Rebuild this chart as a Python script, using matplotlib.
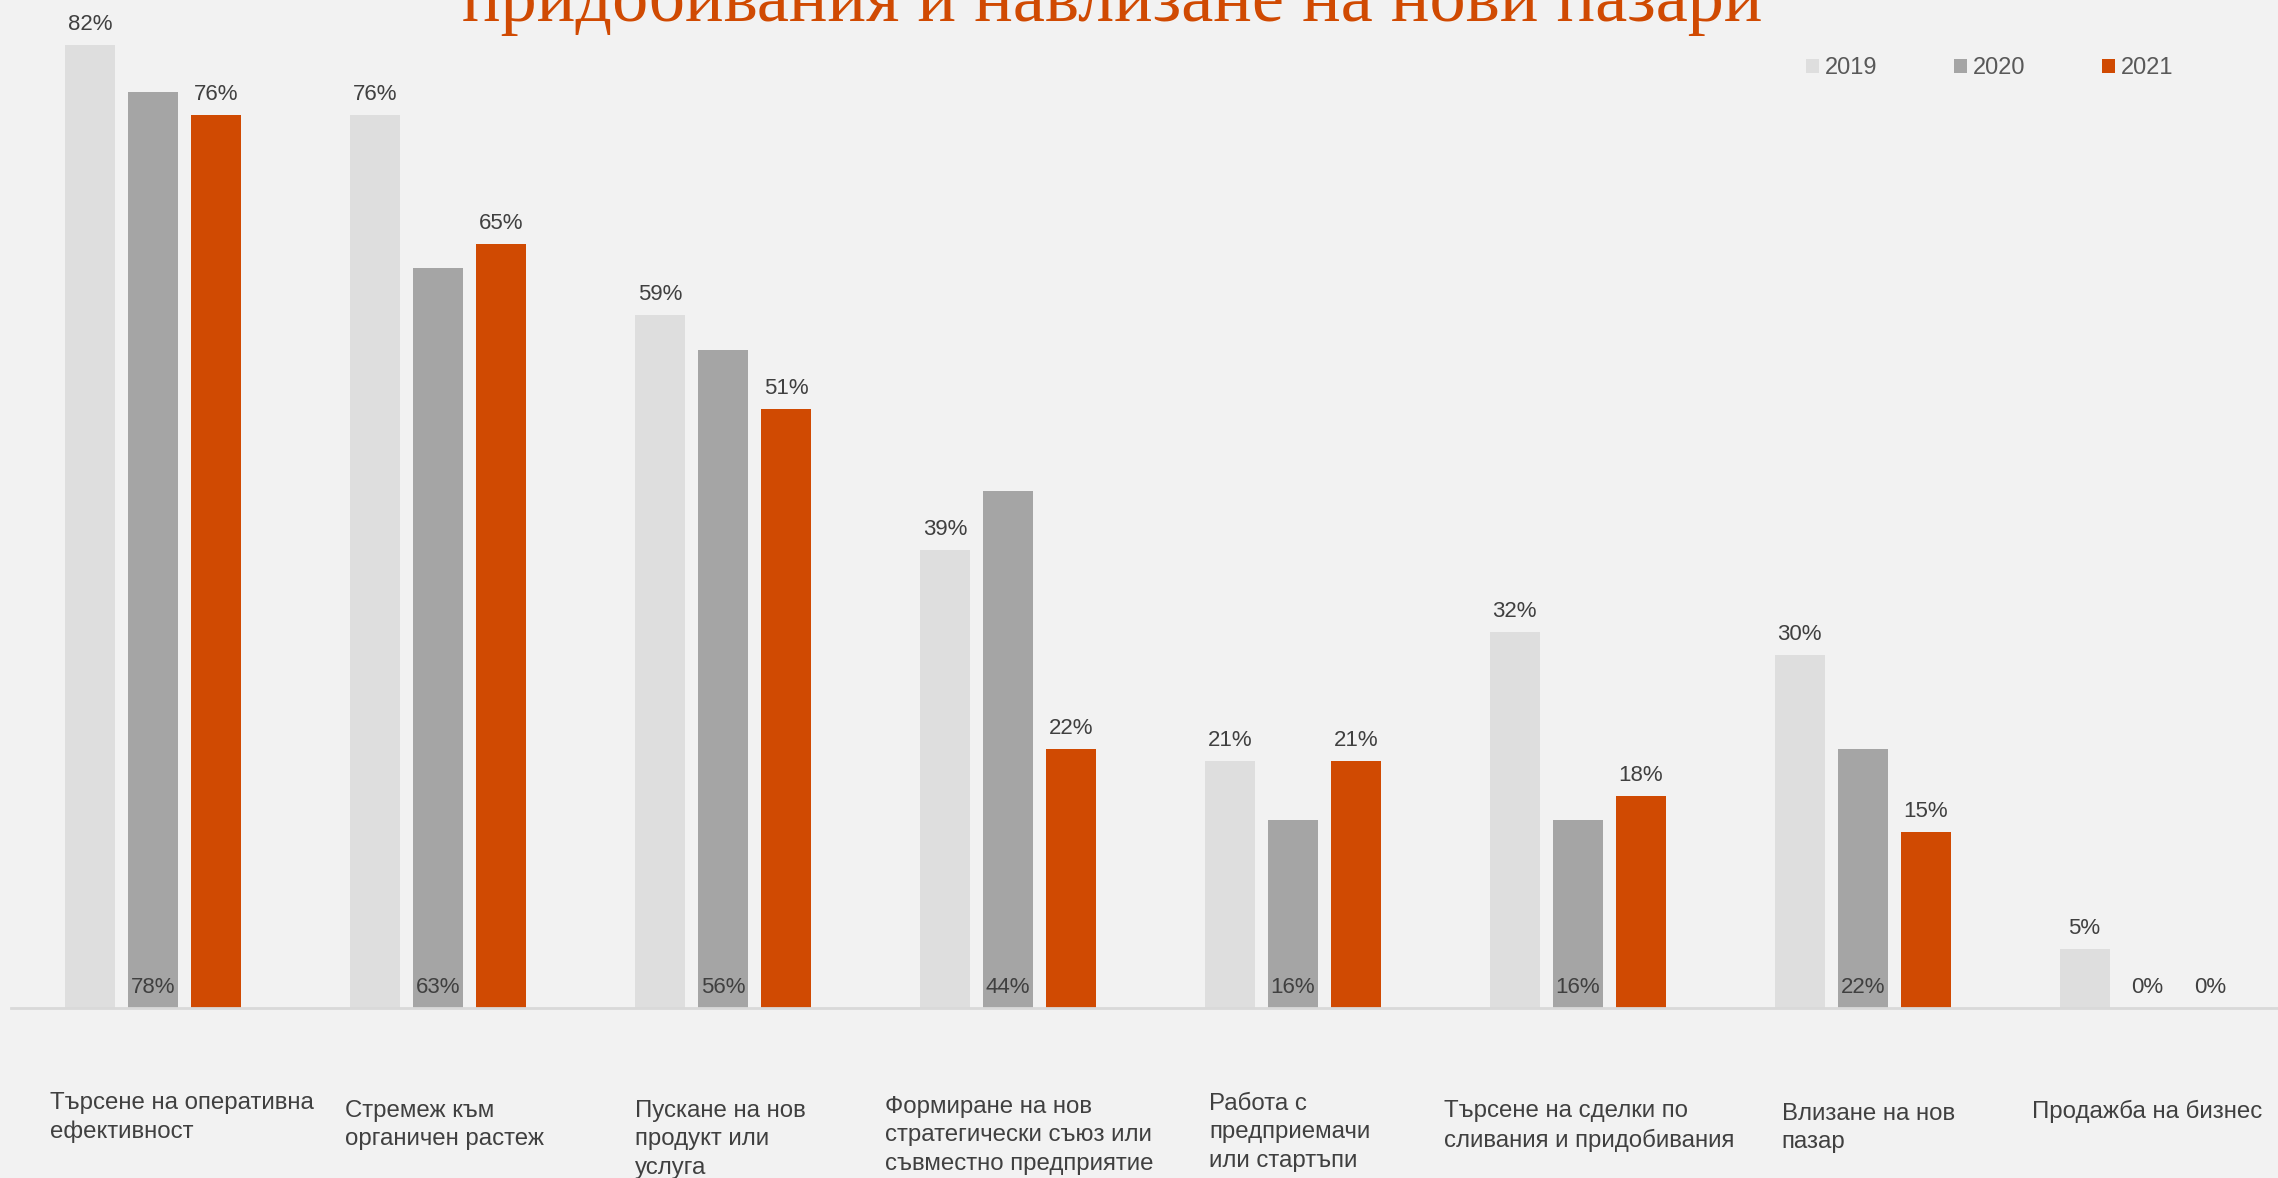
import matplotlib
matplotlib.use("Agg")
import matplotlib.pyplot as plt
import numpy as np

# данни
categories = [
    "Търсене на оперативна\nефективност",
    "Стремеж към\nорганичен растеж",
    "Пускане на нов\nпродукт или\nуслуга",
    "Формиране на нов\nстратегически съюз или\nсъвместно предприятие",
    "Работа с\nпредприемачи\nили стартъпи",
    "Търсене на сделки по\nсливания и придобивания",
    "Влизане на нов\nпазар",
    "Продажба на бизнес",
]
years = ["2019", "2020", "2021"]
vals_2019 = [82, 76, 59, 39, 21, 32, 30, 5]
vals_2020 = [78, 63, 56, 44, 16, 16, 22, 0]
vals_2021 = [76, 65, 51, 22, 21, 18, 15, 0]
title = "придобивания и навлизане на нови пазари"

colors = ["#DEDEDE", "#A5A5A5", "#D04A02"]
bg = "#F2F2F2"
txt = "#404040"

W, H = 2278, 1178
fig = plt.figure(figsize=(W / 100, H / 100), dpi=100, facecolor=bg)
base_y = 1007.7
ax = fig.add_axes([11 / W, 1 - base_y / H, 2279 / W, base_y / H])
ax.set_facecolor(bg)

x = np.arange(len(categories))
width = 0.1755
offset = 0.221
series = [vals_2019, vals_2020, vals_2021]
for i, (yr, vals) in enumerate(zip(years, series)):
    pos = x + (i - 1) * offset
    ax.bar(pos, vals, width, color=colors[i], label=yr, zorder=2)
    for xp, v in zip(pos, vals):
        # 2020 етикети са в основата на колоната
        yv = 0 if i == 1 else v
        ax.annotate(f"{v}%", (xp, yv), xytext=(0, 10.8), textcoords="offset points",
                    ha="center", va="baseline", fontsize=16, color=txt,
                    family="Liberation Sans", zorder=3)

ax.set_xlim(-0.5, 7.5)
ax.set_ylim(0, base_y / 11.745)
for s in ["top", "right", "left"]:
    ax.spines[s].set_visible(False)
ax.spines["bottom"].set_color("#D9D9D9")
ax.spines["bottom"].set_linewidth(2)
ax.set_xticks([])
ax.set_yticks([])

# надписи на категориите (текстови полета под оста)
label_nudge = [0.10, 0.02, -0.01, 0.04, -0.01, 0.04, 0.02, 0.0]
label_drop = [-7, 1, 1, -3, -6, 1, 4, 1]
for xi, lab, dx, dy in zip(x, categories, label_nudge, label_drop):
    xf = (11 + (xi + 0.5 + dx) * 2279 / 8) / W
    fig.text(xf, 1 - (1099 + dy) / H, lab, ha="center", va="top", multialignment="left",
             fontsize=17.3, color=txt, family="Liberation Sans", linespacing=1.37)

fig.text((466 + 1758) / 2 / W, 1 - 21 / H, title, ha="center", va="baseline",
         fontsize=52, color="#D04A02", family="Liberation Serif")

ax.legend(loc="center left", bbox_to_anchor=(1806 / W, 1 - 68 / H),
          bbox_transform=fig.transFigure, ncol=3, frameon=False,
          handlelength=0.55, handleheight=0.55, handletextpad=0.25,
          columnspacing=3.25, borderpad=0, borderaxespad=0,
          prop={"family": "Liberation Sans", "size": 17}, labelcolor="#595959")

fig.savefig("out.png", dpi=100, facecolor=bg)
